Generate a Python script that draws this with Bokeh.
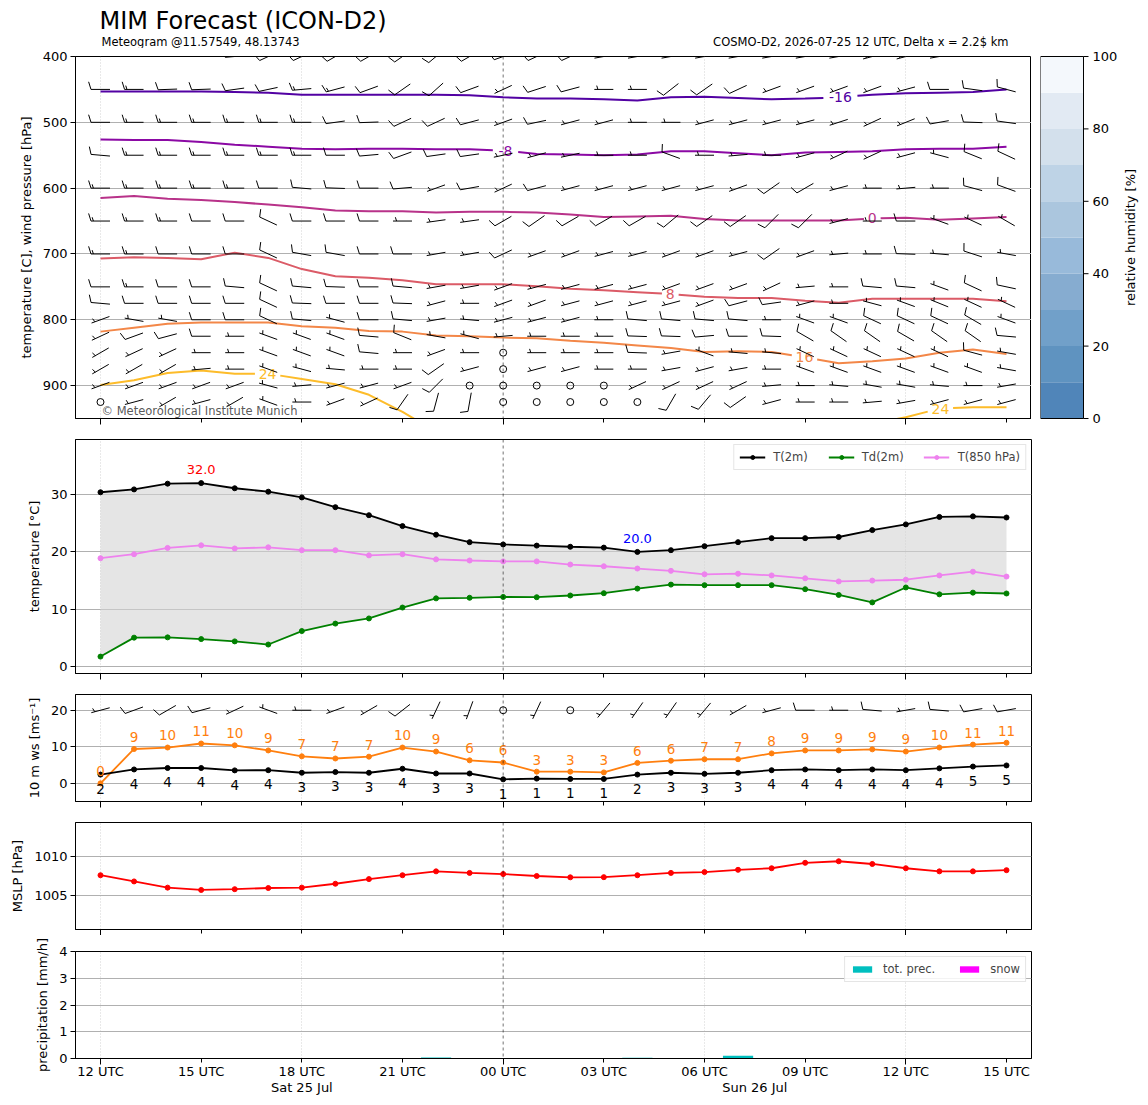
import numpy as np
from bokeh.plotting import figure
from bokeh.models import Range1d, FixedTicker, Span, LinearAxis
from bokeh.layouts import column, row
from bokeh.embed import file_html
from bokeh.resources import INLINE
from bokeh.core.properties import value
from bokeh.palettes import Plasma256

FONT = "DejaVu Sans"

# ---------------------------------------------------------------- data
hours = list(range(28))  # hours since 2026-07-25 12 UTC
tick_hours = [0, 3, 6, 9, 12, 15, 18, 21, 24, 27]
tick_labels = ["12 UTC", "15 UTC", "18 UTC", "21 UTC", "00 UTC", "03 UTC",
               "06 UTC", "09 UTC", "12 UTC", "15 UTC"]
long_tick_hours = [0, 12, 24]
day_label_hours = [6, 19.5]
day_labels = ["Sat 25 Jul", "Sun 26 Jul"]

title_text = "MIM Forecast (ICON-D2)"
subtitle_left = "Meteogram @11.57549, 48.13743"
subtitle_right = "COSMO-D2, 2026-07-25 12 UTC, Delta x = 2.2$ km"
credit_text = "© Meteorological Institute Munich"

# isotherms (pressure of each isotherm per hour)
iso_levels = [-16, -8, 0, 8, 16, 24]
p_m16 = [453, 453, 453, 453, 454, 455, 458, 458, 458, 458, 458, 459, 462, 464,
         464, 465, 467, 462, 461, 463, 465, 464, 462, 458, 456, 455, 454, 450]
p_m8 = [526, 527, 527, 530, 534, 537, 540, 541, 540, 540, 541, 541, 543, 548,
        549, 550, 549, 544, 544, 547, 550, 546, 545, 544, 541, 540, 540, 537]
p_0 = [615, 612, 616, 618, 621, 625, 629, 634, 635, 635, 637, 636, 636, 637,
       640, 644, 643, 642, 647, 649, 649, 649, 649, 646, 645, 648, 646, 644]
p_8 = [707, 705, 706, 708, 698, 706, 723, 734, 736, 740, 746, 746, 746, 749,
       753, 755, 758, 761, 765, 767, 767, 771, 774, 768, 768, 768, 768, 772]
p_16 = [818, 812, 806, 804, 804, 804, 810, 812, 817, 818, 824, 825, 827, 828,
        832, 835, 839, 843, 849, 848, 849, 857, 866, 863, 859, 850, 845, 852]
p_24 = [899, 892, 881, 877, 882, 882, 890, 898, 914, 940, 970, 978, 985, 990,
        990, 990, 988, 985, 980, 975, 970, 965, 962, 958, 948, 935, 933, 933]
iso_label_hours = [[22.05], [12.07], [23.0], [16.98], [20.98], [4.98, 25.03]]

# wind (direction from [deg], speed [kt]) on pressure levels
barb_levels = [400, 450, 500, 550, 600, 650, 700, 750, 775, 800, 825, 850, 875, 900, 925]
dir_400 = [270, 270, 270, 270, 265, 245, 245, 240, 240, 235, 230, 240, 250, 245,
           245, 260, 260, 260, 260, 260, 260, 260, 260, 255, 255, 260, 270, 270]
spd_400 = [10, 10, 10, 10, 10, 10, 10, 10, 10, 10, 10, 10, 10, 10,
           10, 5, 5, 5, 5, 5, 5, 5, 5, 5, 5, 5, 10, 10]
dir_450 = [270, 270, 268, 268, 262, 258, 265, 255, 250, 235, 228, 250, 245, 252,
           255, 270, 270, 232, 235, 245, 250, 250, 250, 250, 255, 270, 278, 285]
spd_450 = [10, 15, 10, 10, 10, 10, 15, 15, 10, 10, 10, 10, 5, 10,
           10, 5, 5, 10, 10, 10, 5, 5, 5, 5, 5, 10, 10, 10]
dir_500 = [270, 270, 270, 270, 270, 270, 270, 262, 268, 245, 245, 255, 250, 258,
           255, 255, 270, 270, 255, 255, 255, 255, 252, 245, 248, 260, 272, 278]
spd_500 = [10, 15, 15, 15, 15, 15, 15, 10, 10, 10, 10, 10, 5, 10,
           5, 5, 5, 5, 5, 5, 5, 5, 5, 5, 5, 10, 10, 10]
dir_550 = [275, 270, 270, 270, 270, 270, 270, 270, 265, 250, 262, 262, 258, 255,
           258, 270, 270, 290, 270, 265, 270, 255, 245, 245, 255, 285, 292, 295]
spd_550 = [10, 15, 15, 15, 15, 15, 15, 10, 10, 10, 10, 10, 5, 5,
           5, 5, 5, 10, 5, 5, 5, 5, 5, 5, 5, 5, 10, 10]
dir_600 = [270, 270, 270, 270, 270, 270, 275, 272, 270, 265, 250, 260, 245, 255,
           255, 255, 255, 255, 255, 250, 235, 240, 255, 270, 265, 270, 285, 290]
spd_600 = [15, 15, 15, 15, 15, 10, 10, 10, 10, 10, 5, 10, 5, 10,
           5, 5, 5, 5, 5, 5, 10, 10, 5, 5, 5, 5, 10, 10]
dir_650 = [270, 270, 270, 270, 270, 295, 270, 270, 270, 270, 262, 262, 240, 235,
           240, 240, 240, 230, 235, 235, 225, 225, 255, 270, 270, 290, 295, 300]
spd_650 = [15, 15, 15, 10, 10, 10, 10, 10, 10, 5, 5, 5, 10, 10,
           10, 10, 10, 10, 10, 10, 10, 10, 5, 5, 10, 5, 5, 5]
dir_700 = [270, 270, 270, 270, 270, 295, 280, 280, 270, 270, 260, 260, 245, 250,
           250, 255, 255, 250, 250, 255, 235, 250, 265, 270, 272, 275, 288, 280]
spd_700 = [15, 15, 10, 10, 10, 10, 10, 10, 10, 10, 5, 5, 10, 5,
           5, 5, 5, 5, 5, 5, 10, 5, 5, 5, 10, 5, 10, 5]
dir_750 = [270, 270, 270, 270, 275, 295, 275, 272, 270, 275, 260, 260, 250, 255,
           255, 255, 255, 250, 250, 250, 245, 265, 270, 275, 275, 290, 295, 282]
spd_750 = [10, 15, 10, 10, 10, 10, 10, 10, 10, 10, 5, 5, 5, 5,
           5, 5, 5, 5, 5, 5, 5, 5, 5, 10, 10, 5, 10, 10]
dir_775 = [275, 270, 270, 270, 270, 295, 272, 270, 270, 272, 255, 270, 250, 250,
           255, 255, 255, 255, 250, 255, 262, 255, 270, 285, 290, 292, 295, 295]
spd_775 = [10, 10, 10, 10, 10, 10, 10, 10, 10, 10, 5, 5, 5, 5,
           5, 5, 5, 5, 5, 10, 10, 5, 5, 5, 5, 5, 5, 5]
dir_800 = [250, 280, 280, 270, 270, 295, 275, 285, 270, 275, 260, 275, 255, 255,
           255, 270, 275, 275, 275, 275, 270, 290, 290, 295, 295, 295, 300, 290]
spd_800 = [5, 5, 5, 10, 10, 10, 10, 5, 10, 10, 5, 5, 5, 5,
           5, 5, 10, 10, 10, 10, 5, 5, 5, 10, 10, 10, 10, 5]
dir_825 = [245, 250, 255, 270, 270, 290, 290, 290, 275, 292, 280, 285, 265, 270,
           270, 270, 272, 272, 265, 270, 272, 300, 305, 305, 300, 305, 305, 275]
spd_825 = [5, 10, 10, 10, 5, 5, 5, 5, 10, 10, 5, 5, 5, 5,
           5, 5, 10, 10, 10, 10, 10, 10, 10, 10, 10, 10, 10, 10]
dir_850 = [240, 245, 245, 270, 270, 290, 290, 290, 275, 270, 250, 270, 0, 270,
           270, 270, 272, 260, 290, 275, 275, 295, 295, 295, 295, 295, 285, 280]
spd_850 = [5, 5, 5, 5, 5, 5, 5, 5, 10, 5, 5, 5, 0, 5,
           5, 5, 10, 5, 5, 5, 5, 5, 5, 5, 5, 5, 10, 5]
dir_875 = [240, 240, 240, 265, 270, 290, 285, 275, 270, 270, 235, 255, 0, 255,
           255, 270, 270, 260, 255, 260, 270, 290, 290, 290, 290, 290, 290, 280]
spd_875 = [5, 5, 5, 5, 5, 5, 5, 5, 5, 5, 10, 5, 0, 5,
           5, 5, 5, 5, 5, 5, 5, 5, 5, 5, 5, 5, 5, 5]
dir_900 = [250, 250, 250, 250, 250, 285, 265, 255, 255, 250, 225, 0, 0, 0,
           0, 0, 245, 245, 245, 245, 265, 270, 275, 280, 280, 275, 270, 260]
spd_900 = [5, 5, 5, 5, 5, 5, 5, 5, 5, 5, 10, 0, 0, 0,
           0, 0, 5, 5, 5, 5, 5, 5, 5, 5, 5, 5, 5, 5]
dir_925 = [0, 255, 240, 255, 240, 290, 270, 250, 245, 215, 195, 190, 0, 0,
           0, 0, 0, 210, 220, 235, 255, 270, 270, 265, 260, 255, 255, 255]
spd_925 = [0, 5, 5, 5, 5, 5, 5, 5, 5, 10, 10, 10, 0, 0,
           0, 0, 0, 10, 10, 10, 5, 5, 5, 5, 5, 5, 5, 5]

# relative humidity colour scale
rh_levels = [0, 10, 20, 30, 40, 50, 60, 70, 80, 90, 100]
rh_ticks = [0, 20, 40, 60, 80, 100]
rh_colors = ["#5085b9", "#5f93c0", "#71a0c9", "#86acd0", "#98bada",
             "#abc6de", "#bed3e6", "#d3e0ec", "#e2eaf3", "#f4f8fc"]
rh_label = "relative humidity [%]"

# 2 m temperatures
T2m = [30.4, 30.9, 31.9, 32.0, 31.1, 30.5, 29.5, 27.8, 26.4, 24.5, 23.0, 21.7, 21.3, 21.1,
       20.9, 20.75, 20.0, 20.3, 21.0, 21.7, 22.4, 22.4, 22.6, 23.8, 24.8, 26.1, 26.2, 26.0]
Td2m = [1.75, 5.05, 5.1, 4.8, 4.4, 3.85, 6.2, 7.5, 8.4, 10.3, 11.9, 12.0, 12.15, 12.1,
        12.4, 12.8, 13.6, 14.3, 14.2, 14.2, 14.2, 13.5, 12.5, 11.2, 13.8, 12.6, 12.9, 12.75]
T850 = [18.9, 19.6, 20.7, 21.15, 20.6, 20.8, 20.3, 20.3, 19.4, 19.6, 18.7, 18.5, 18.35, 18.35,
        17.8, 17.5, 17.1, 16.7, 16.1, 16.2, 15.9, 15.4, 14.85, 15.0, 15.15, 15.9, 16.55, 15.7]

# 10 m wind
ws10 = [2.4, 3.8, 4.2, 4.2, 3.55, 3.6, 2.9, 3.1, 2.9, 4.0, 2.7, 2.7, 1.1, 1.3,
        1.2, 1.2, 2.4, 2.9, 2.6, 2.9, 3.6, 3.8, 3.6, 3.8, 3.6, 4.1, 4.6, 4.9]
gust10 = [0.0, 9.4, 9.8, 10.9, 10.4, 9.0, 7.4, 6.8, 7.3, 9.8, 8.7, 6.3, 5.7, 3.2,
          3.2, 3.0, 5.6, 6.2, 6.6, 6.6, 8.2, 9.0, 9.0, 9.3, 8.7, 9.8, 10.6, 11.1]
sfc_dir = [255, 250, 240, 255, 245, 290, 270, 250, 240, 232, 205, 200, 0, 205,
           0, 220, 215, 215, 220, 240, 255, 270, 270, 275, 260, 275, 260, 260]
sfc_spd = [5, 10, 10, 10, 5, 5, 5, 5, 5, 10, 5, 5, 0, 5,
           0, 5, 5, 5, 5, 5, 5, 10, 5, 10, 5, 10, 10, 10]

# mean sea level pressure
mslp = [1007.6, 1006.8, 1006.0, 1005.7, 1005.8, 1005.95, 1006.0, 1006.5, 1007.1, 1007.6,
        1008.1, 1007.9, 1007.75, 1007.5, 1007.33, 1007.35, 1007.6, 1007.9, 1008.0, 1008.3,
        1008.5, 1009.2, 1009.4, 1009.05, 1008.5, 1008.1, 1008.1, 1008.25]

# precipitation
tot_prec = [0, 0, 0, 0, 0, 0, 0, 0, 0, 0, 0.04, 0, 0, 0,
            0, 0, 0.03, 0, 0, 0.1, 0, 0, 0, 0, 0, 0, 0, 0]
snow = [0, 0, 0, 0, 0, 0, 0, 0, 0, 0, 0, 0, 0, 0,
        0, 0, 0, 0, 0, 0, 0, 0, 0, 0, 0, 0, 0, 0]

# ---------------------------------------------------------------- layout constants
XR = (-0.745, 27.745)
FW = 956
LEFT = 75
SX = FW / (XR[1] - XR[0])          # px per hour
TF_H = 48                           # title strip height
P1_TOP = 8
TOP = TF_H + P1_TOP                 # space above the first panel
FH1, FH2, FHS = 362, 234, 107
Y1 = (950, 400)
Y2 = (-1.2, 39.6)
Y3 = (-4.96, 24.3)
Y4 = (1000.6, 1014.4)
Y5 = (0, 4)
BL = 19.0                           # barb length in px
P1_BOTTOM = 10


def style_text(size="13px"):
    return dict(text_font=value(FONT), text_font_size=value(size))


def barbs(xh, yv, dirs, spds, sx, sy):
    xs, ys, cx, cy = [], [], [], []
    H, W, S = 0.4 * BL, 0.25 * BL, 0.125 * BL
    for x0, y0, d, s in zip(xh, yv, dirs, spds):
        r = 5 * int(np.floor(s / 5.0 + 0.5))
        if r < 5:
            cx.append(x0)
            cy.append(y0)
            continue
        th = np.deg2rad(d)
        dx, dy = np.sin(th), np.cos(th)
        nx, ny = dy, -dx

        def P(a, b):
            return x0 + (a * dx + b * nx) / sx, y0 + (a * dy + b * ny) / sy
        segs = [(P(-BL / 2, 0), P(BL / 2, 0))]
        off = BL
        for _ in range(r // 10):
            a = off - BL / 2
            segs.append((P(a, 0), P(a + W / 2, H)))
            off -= S
        if r % 10:
            if off == BL:
                off -= 1.5 * S
            a = off - BL / 2
            segs.append((P(a, 0), P(a + W / 4, H / 2)))
        for (xa, ya), (xb, yb) in segs:
            xs.append([xa, xb])
            ys.append([ya, yb])
    return xs, ys, cx, cy


def make_fig(fh, yr, yticks, ylabel, top, bottom, labels=False, right=5):
    p = figure(frame_width=FW, frame_height=fh, x_range=Range1d(*XR), y_range=Range1d(*yr),
               output_backend="svg", toolbar_location=None,
               min_border_left=LEFT, min_border_right=right,
               min_border_top=top, min_border_bottom=bottom,
               background_fill_color="white", border_fill_color="white")
    p.outline_line_color = "black"
    p.outline_line_width = 1
    p.outline_line_alpha = 1
    xa = p.xaxis[0]
    xa.ticker = FixedTicker(ticks=tick_hours, minor_ticks=long_tick_hours)
    xa.major_label_overrides = dict(zip(tick_hours, tick_labels))
    xa.major_tick_out = 4
    xa.major_tick_in = 0
    xa.minor_tick_out = 6
    xa.minor_tick_in = 0
    xa.axis_line_color = "black"
    xa.major_tick_line_color = "black"
    xa.minor_tick_line_color = "black"
    if labels:
        xa.major_label_text_font = FONT
        xa.major_label_text_font_size = "13px"
        xa.major_label_text_color = "black"
        xa.major_label_standoff = -1
    else:
        xa.major_label_text_font_size = "1px"
        xa.major_label_text_color = None
        xa.major_label_standoff = 0
    ya = p.yaxis[0]
    ya.ticker = FixedTicker(ticks=yticks)
    ya.major_tick_out = 5
    ya.major_tick_in = 0
    ya.minor_tick_out = 0
    ya.minor_tick_in = 0
    ya.major_label_text_font = FONT
    ya.major_label_text_font_size = "13px"
    ya.major_label_text_color = "black"
    ya.major_label_standoff = 3
    ya.axis_label = ylabel
    ya.axis_label_text_font = FONT
    ya.axis_label_text_font_size = "13px"
    ya.axis_label_text_font_style = "normal"
    ya.axis_label_text_color = "black"
    ya.axis_label_standoff = 6
    p.xgrid.ticker = FixedTicker(ticks=[0, 6, 18, 24])
    p.xgrid.grid_line_color = "#c8c8c8"
    p.xgrid.grid_line_dash = "1 2"
    p.xgrid.grid_line_width = 0.8
    p.ygrid.ticker = FixedTicker(ticks=yticks)
    p.ygrid.grid_line_color = "#b0b0b0"
    p.ygrid.grid_line_width = 1
    p.add_layout(Span(location=12, dimension="height", line_color="black",
                      line_dash="3 3", line_width=0.8, line_alpha=0.7))
    return p


# ---------------------------------------------------------------- title strip
tf = figure(frame_width=FW, frame_height=TF_H, x_range=Range1d(*XR), y_range=Range1d(0, TF_H),
            x_axis_location=None, y_axis_location=None, output_backend="svg",
            toolbar_location=None, min_border_left=LEFT, min_border_right=0,
            min_border_top=0, min_border_bottom=0,
            background_fill_color="white", border_fill_color="white")
tf.outline_line_color = None
tf.grid.visible = False
tf.text(x=[-0.03], y=[TF_H - 20], text=[title_text], text_color="black", text_align="left",
        text_baseline="middle", **style_text("24px"))
tf.text(x=[0.03], y=[TF_H - 41], text=[subtitle_left], text_color="black", text_align="left",
        text_baseline="middle", **style_text("11.5px"))
tf.text(x=[27.06], y=[TF_H - 41], text=[subtitle_right], text_color="black", text_align="right",
        text_baseline="middle", **style_text("11.5px"))

# ---------------------------------------------------------------- panel 1
p1 = make_fig(FH1, Y1, [400, 500, 600, 700, 800, 900],
              "temperature [C], wind pressure [hPa]", top=P1_TOP, bottom=P1_BOTTOM, right=0)
sy1 = -FH1 / (Y1[0] - Y1[1])

iso_press = [p_m16, p_m8, p_0, p_8, p_16, p_24]
CW = 0.62 * 14
for lev, pl, pos_list in zip(iso_levels, iso_press, iso_label_hours):
    col = Plasma256[int(round((lev + 24) / 56 * 255))]
    txt = f"{lev:d}"
    hw = (len(txt) * CW / 2 + 4) / SX
    bounds = [hours[0]]
    for pos in sorted(pos_list):
        bounds += [pos - hw, pos + hw]
    bounds.append(hours[-1])
    segx, segy = [], []
    for a, b in zip(bounds[0::2], bounds[1::2]):
        hx = [a] + [h for h in hours if a < h < b] + [b]
        segx.append(hx)
        segy.append(list(np.interp(hx, hours, pl)))
    p1.multi_line(segx, segy, line_color=col, line_width=2)
    p1.text(x=pos_list, y=[float(np.interp(q, hours, pl)) for q in pos_list],
            text=[txt] * len(pos_list), text_color=col, text_align="center",
            text_baseline="middle", **style_text("14px"))

wind_dirs = [dir_400, dir_450, dir_500, dir_550, dir_600, dir_650, dir_700, dir_750,
             dir_775, dir_800, dir_825, dir_850, dir_875, dir_900, dir_925]
wind_spds = [spd_400, spd_450, spd_500, spd_550, spd_600, spd_650, spd_700, spd_750,
             spd_775, spd_800, spd_825, spd_850, spd_875, spd_900, spd_925]
bx, by, cx, cy = [], [], [], []
for lev, dd, ss in zip(barb_levels, wind_dirs, wind_spds):
    a, b, c, d = barbs(hours, [lev] * len(hours), dd, ss, SX, sy1)
    bx += a; by += b; cx += c; cy += d
p1.multi_line(bx, by, line_color="black", line_width=1)
p1.scatter(cx, cy, marker="circle", size=7, fill_color=None, line_color="black", line_width=1)
p1.text(x=[0.03], y=[938], text=[credit_text], text_color="#444444", text_alpha=0.9,
        text_align="left", text_baseline="middle", **style_text("11.5px"))

# ---------------------------------------------------------------- colour bar (own figure)
CBW = 43                      # bar width px
CB_FW = 100                   # frame width px
CB_FH = TOP + FH1 + P1_BOTTOM
cb_scale = FH1 / 100.0        # px per %
cb_y0 = -P1_BOTTOM / cb_scale
cb_y1 = 100 + TOP / cb_scale
pcb = figure(frame_width=CB_FW, frame_height=CB_FH, x_range=Range1d(0, CB_FW / CBW),
             y_range=Range1d(cb_y0, cb_y1), x_axis_location=None, y_axis_location=None,
             output_backend="svg", toolbar_location=None, min_border_left=9,
             min_border_right=0, min_border_top=0, min_border_bottom=0,
             background_fill_color="white", border_fill_color="white")
pcb.outline_line_color = None
pcb.grid.visible = False
pcb.quad(left=0, right=1, bottom=rh_levels[:-1], top=rh_levels[1:], fill_color=rh_colors,
         line_color=None)
pcb.quad(left=[0], right=[1], bottom=[rh_levels[0]], top=[rh_levels[-1]], fill_color=None,
         line_color="black", line_width=1)
pcb.segment(x0=[1] * len(rh_ticks), x1=[1 + 5 / CBW] * len(rh_ticks), y0=rh_ticks,
            y1=rh_ticks, line_color="black", line_width=1)
pcb.text(x=[1 + 9 / CBW] * len(rh_ticks), y=rh_ticks, text=[str(t) for t in rh_ticks],
         text_color="black", text_align="left", text_baseline="middle", **style_text("13px"))
pcb.text(x=[90 / CBW], y=[50], text=[rh_label], text_color="black", angle=np.pi / 2,
         text_align="center", text_baseline="middle", **style_text("13px"))

# ---------------------------------------------------------------- panel 2
p2 = make_fig(FH2, Y2, [0, 10, 20, 30], "temperature [°C]", top=11, bottom=10)
p2.varea(x=hours, y1=Td2m, y2=T2m, fill_color="#d3d3d3", fill_alpha=0.6)
for ser, colr, lab in [(T2m, "black", "T(2m)"), (Td2m, "green", "Td(2m)"),
                       (T850, "violet", "T(850 hPa)")]:
    p2.line(hours, ser, line_color=colr, line_width=1.8, legend_label=lab)
    p2.scatter(hours, ser, marker="circle", size=5, fill_color=colr, line_color=colr,
               legend_label=lab)
imax = int(np.argmax(T2m))
imin = int(np.argmin(T2m))
p2.text(x=[hours[imax]], y=[T2m[imax] + 2.3], text=[f"{T2m[imax]:.1f}"], text_color="red",
        text_align="center", text_baseline="middle", **style_text("13px"))
p2.text(x=[hours[imin]], y=[T2m[imin] + 2.3], text=[f"{T2m[imin]:.1f}"], text_color="blue",
        text_align="center", text_baseline="middle", **style_text("13px"))
lg = p2.legend[0]
lg.location = "top_right"
lg.orientation = "horizontal"
lg.label_text_font = FONT
lg.label_text_font_size = "11.5px"
lg.glyph_width = 26
lg.glyph_height = 10
lg.label_standoff = 8
lg.spacing = 20
lg.padding = 5
lg.margin = 5
lg.border_line_color = "#cccccc"
lg.background_fill_alpha = 0.85

# ---------------------------------------------------------------- panel 3
p3 = make_fig(FHS, Y3, [0, 10, 20], "10 m ws [ms⁻¹]", top=11, bottom=10)
sy3 = FHS / (Y3[1] - Y3[0])
p3.line(hours, gust10, line_color="#ff7f0e", line_width=1.8)
p3.scatter(hours, gust10, marker="circle", size=5, color="#ff7f0e")
p3.line(hours, ws10, line_color="black", line_width=1.8)
p3.scatter(hours, ws10, marker="circle", size=5, color="black")
p3.text(x=hours, y=[g + 3.3 for g in gust10], text=[str(int(np.floor(g + 0.5))) for g in gust10],
        text_color="#ff7f0e", text_align="center", text_baseline="middle", **style_text("13.5px"))
p3.text(x=hours, y=[w - 3.9 for w in ws10], text=[str(int(np.floor(w + 0.5))) for w in ws10],
        text_color="black", text_align="center", text_baseline="middle", **style_text("13.5px"))
sbx, sby, scx, scy = barbs(hours, [20] * len(hours), sfc_dir, sfc_spd, SX, sy3)
p3.multi_line(sbx, sby, line_color="black", line_width=1)
p3.scatter(scx, scy, marker="circle", size=7, fill_color=None, line_color="black", line_width=1)

# ---------------------------------------------------------------- panel 4
p4 = make_fig(FHS, Y4, [1005, 1010], "MSLP [hPa]", top=11, bottom=5)
p4.line(hours, mslp, line_color="red", line_width=1.8)
p4.scatter(hours, mslp, marker="circle", size=5, color="red")

# ---------------------------------------------------------------- panel 5
p5 = make_fig(FHS, Y5, [0, 1, 2, 3, 4], "precipitation [mm/h]", top=16, bottom=0, labels=True)
p5.vbar(x=hours, top=tot_prec, width=0.9, fill_color="#00bfbf", line_color=None,
        legend_label="tot. prec.")
p5.vbar(x=hours, top=snow, width=0.9, fill_color="magenta", line_color=None,
        legend_label="snow")
lg5 = p5.legend[0]
lg5.location = "top_right"
lg5.orientation = "horizontal"
lg5.label_text_font = FONT
lg5.label_text_font_size = "11.5px"
lg5.glyph_width = 24
lg5.glyph_height = 8
lg5.label_standoff = 9
lg5.spacing = 22
lg5.padding = 5
lg5.margin = 5
lg5.border_line_color = "#cccccc"
lg5.background_fill_alpha = 0.85
ax2 = LinearAxis(ticker=FixedTicker(ticks=day_label_hours),
                 major_label_overrides=dict(zip(day_label_hours, day_labels)),
                 major_tick_out=0, major_tick_in=0, minor_tick_out=0, minor_tick_in=0,
                 axis_line_color=None, major_label_standoff=-2,
                 major_label_text_font=FONT, major_label_text_font_size="13px",
                 major_label_text_color="black")
p5.add_layout(ax2, "below")

layout = column(row(column(tf, p1), pcb), p2, p3, p4, p5)
open("out.html", "w").write(file_html(layout, INLINE))
